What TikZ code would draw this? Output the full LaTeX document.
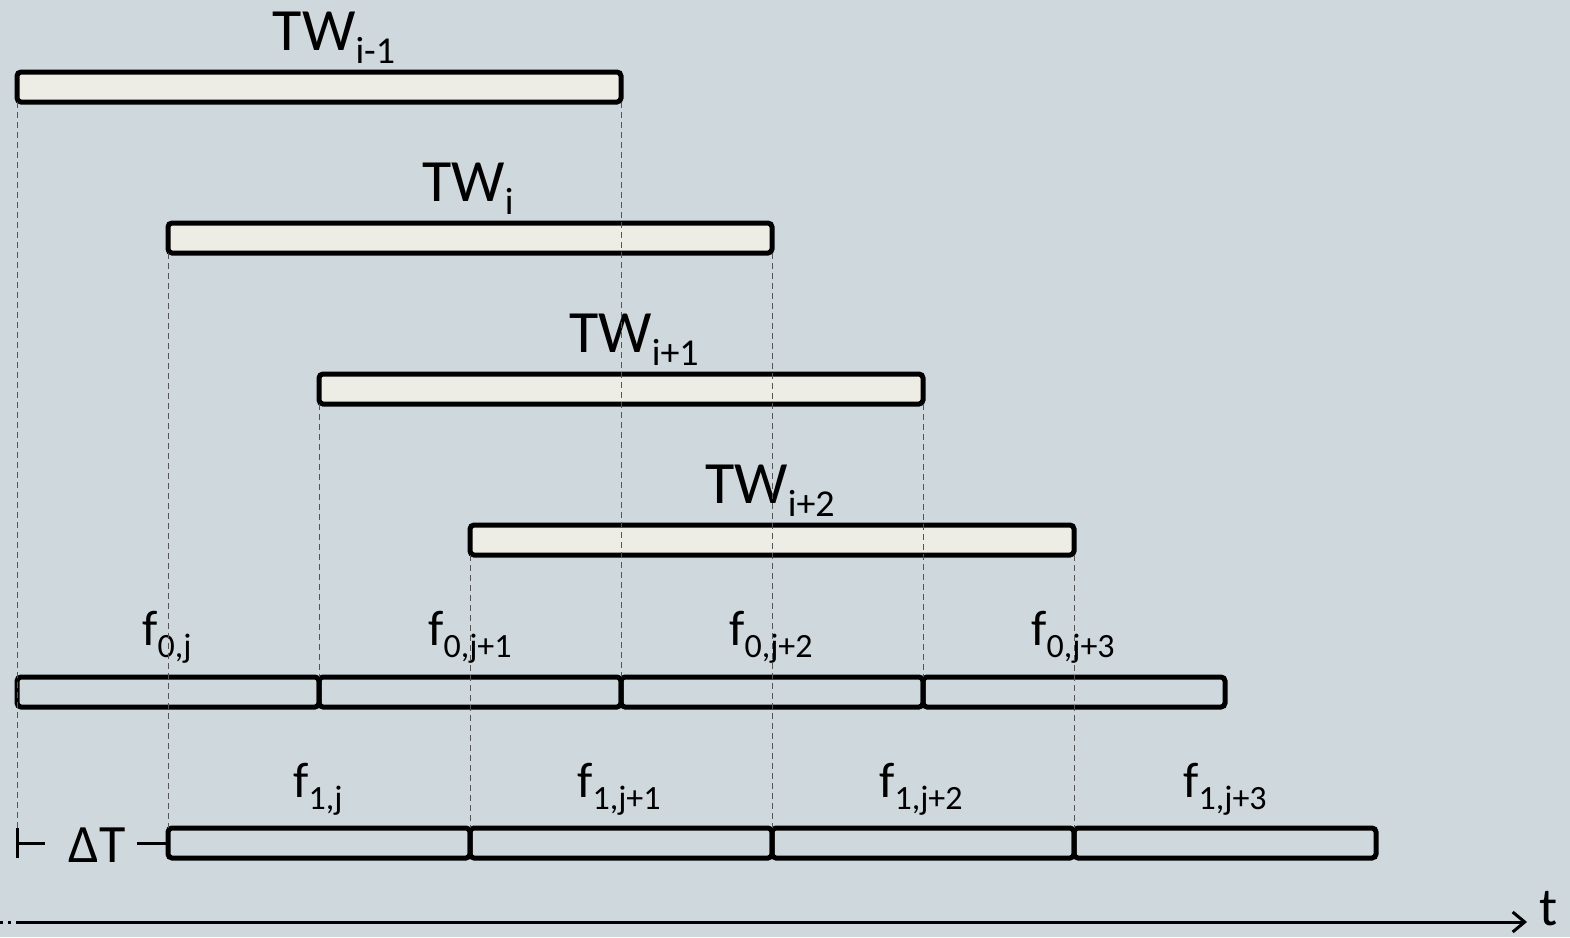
\documentclass[tikz,border=0pt]{standalone}
\usepackage{fontspec}
\setmainfont{Carlito}
\usetikzlibrary{arrows.meta}
\definecolor{bg}{HTML}{CFD8DC}
\definecolor{barfill}{HTML}{EDEDE5}
\definecolor{dashc}{HTML}{555555}
\newcommand{\twl}[1]{\fontsize{60}{60}\selectfont TW\raisebox{-13pt}{\fontsize{38}{38}\selectfont #1}}
\newcommand{\fl}[1]{\fontsize{50}{50}\selectfont f\raisebox{-12pt}{\fontsize{34}{34}\selectfont #1}}
\tikzset{
  bar/.style={draw=black, line width=5pt, rounded corners=4pt, fill=barfill, minimum width=604pt, minimum height=30pt, inner sep=0pt, outer sep=0pt},
  seg/.style={draw=black, line width=5pt, rounded corners=4pt, minimum width=302pt, minimum height=30pt, inner sep=0pt, outer sep=0pt},
  guide/.style={draw=dashc, line width=1pt, dash pattern=on 6pt off 4pt},
  lbl/.style={anchor=base, inner sep=0pt},
}
\begin{document}
\begin{tikzpicture}[x=1pt,y=-1pt]
\fill[bg] (0,0) rectangle (1570,937);
\useasboundingbox (0,0) rectangle (1570,937);
% time windows
\node[bar] (tw0) at (319,87) {};
\node[bar] (tw1) at (470,238) {};
\node[bar] (tw2) at (621,389) {};
\node[bar] (tw3) at (772,540) {};
\node[lbl] (ltw0) at (334,50) {\twl{i-1}};
\node[lbl] (ltw1) at (468,201) {\twl{i}};
\node[lbl] (ltw2) at (634,352) {\twl{i+1}};
\node[lbl] (ltw3) at (770,503) {\twl{i+2}};
% f0 segments
\node[seg] (f0a) at (168,692) {};
\node[seg] (f0b) at (470,692) {};
\node[seg] (f0c) at (772,692) {};
\node[seg] (f0d) at (1074,692) {};
\node[lbl] (lf0a) at (167,645) {\fl{0,j}};
\node[lbl] (lf0b) at (470,645) {\fl{0,j+1}};
\node[lbl] (lf0c) at (771,645) {\fl{0,j+2}};
\node[lbl] (lf0d) at (1073,645) {\fl{0,j+3}};
% f1 segments
\node[seg] (f1a) at (319,843) {};
\node[seg] (f1b) at (621,843) {};
\node[seg] (f1c) at (923,843) {};
\node[seg] (f1d) at (1225,843) {};
\node[lbl] (lf1a) at (318,797) {\fl{1,j}};
\node[lbl] (lf1b) at (619,797) {\fl{1,j+1}};
\node[lbl] (lf1c) at (921,797) {\fl{1,j+2}};
\node[lbl] (lf1d) at (1225,797) {\fl{1,j+3}};
% Delta T
\coordinate (dtt) at (17,828);
\coordinate (dtb) at (17,858);
\coordinate (dtm) at (17,843);
\coordinate (dtl) at (45,843);
\coordinate (dtr) at (137,843);
\node[lbl] (dt) at (97,862) {\fontsize{54}{54}\selectfont ΔT};
\draw[line width=3pt] (dtt) -- (dtb);
\draw[line width=3pt] (dtm) -- (dtl);
\draw[line width=3pt] (dtr) -- (f1a.west);
% guides
\draw[guide] (tw0.south west) -- (dtt);
\draw[guide] (tw1.south west) -- (f1a.north west);
\draw[guide] (tw2.south west) -- (f0b.north west);
\draw[guide] (tw3.south west) -- (f1b.north west);
\draw[guide] (tw0.south east) -- (f0c.north west);
\draw[guide] (tw1.south east) -- (f1c.north west);
\draw[guide] (tw2.south east) -- (f0d.north west);
\draw[guide] (tw3.south east) -- (f1d.north west);
% time axis
\coordinate (ax0) at (0,922);
\coordinate (ax1) at (17,922);
\coordinate (ax2) at (1527,922);
\draw[line width=3pt, dash pattern=on 3pt off 5pt] (ax0) -- (ax1);
\draw[line width=3pt, -{Straight Barb[length=12pt,width=20pt,line width=3pt]}] (ax1) -- (ax2);
\node[lbl] (t) at (1549,925) {\fontsize{54}{54}\selectfont t};
\end{tikzpicture}
\end{document}
